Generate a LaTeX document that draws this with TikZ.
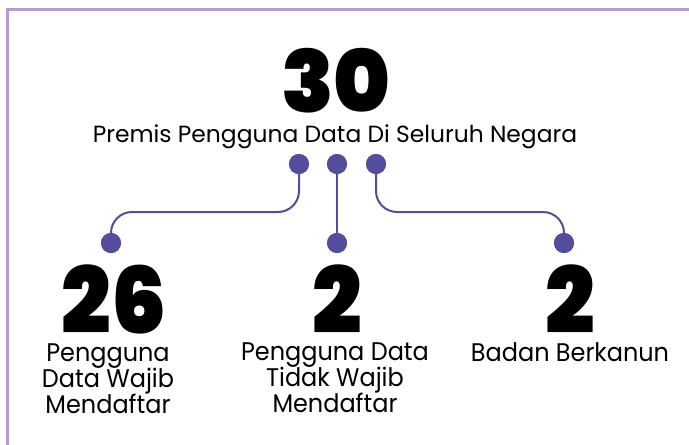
\documentclass[tikz,border=0pt]{standalone}
\usepackage{fontspec}
\usepackage{graphicx}
\setmainfont{Poppins}
\IfFontExistsTF{Poppins Black}{\newfontfamily\heavyfont{Poppins Black}}{\newcommand\heavyfont{\bfseries}}
\definecolor{framec}{HTML}{B39CD0}
\definecolor{dotc}{HTML}{534D9B}
\tikzset{
  dotnode/.style={circle, fill=dotc, minimum size=20pt, inner sep=0pt},
  conn/.style={draw=dotc, line width=2pt, rounded corners=21pt},
  bignum/.style={anchor=base, inner sep=0pt, font=\heavyfont\fontsize{86}{86}\selectfont},
  lownum/.style={anchor=base, inner sep=0pt, font=\heavyfont\fontsize{92}{92}\selectfont},
  subtxt/.style={anchor=base, inner sep=0pt, font=\fontsize{23.4}{26}\selectfont},
  lowtxt/.style={anchor=base, inner sep=0pt, font=\fontsize{25.5}{23.5}\selectfont}
}
\newcommand\sq[1]{\scalebox{0.95}[1]{#1}}
\newcommand\lines[1]{\scalebox{0.94}[1]{\begin{tabular}[t]{@{}c@{}}#1\end{tabular}}}
\begin{document}
\begin{tikzpicture}[x=1pt,y=-1pt]
\useasboundingbox (0,0) rectangle (689,445);
\fill[white] (0,0) rectangle (689,445);
\draw[framec, line width=3pt] (7.5,445) -- (7.5,9.5) -- (689,9.5);
% top
\node[bignum] (n30) at (336,112) {30};
\node[subtxt] (sub) at (335,142) {Premis Pengguna Data Di Seluruh Negara};
% dots
\node[dotnode] (t1) at (299,164) {};
\node[dotnode] (t2) at (337,164) {};
\node[dotnode] (t3) at (376,164) {};
\node[dotnode] (b1) at (111,243) {};
\node[dotnode] (b2) at (337,243) {};
\node[dotnode] (b3) at (564,243) {};
% connectors
\draw[conn] (t1.center) -- ++(0,48) -| (b1.center);
\draw[conn] (t2.center) -- (b2.center);
\draw[conn] (t3.center) -- ++(0,48) -| (b3.center);
\node[dotnode] at (t1) {};
\node[dotnode] at (t2) {};
\node[dotnode] at (t3) {};
\node[dotnode] at (b1) {};
\node[dotnode] at (b2) {};
\node[dotnode] at (b3) {};
% bottom numbers
\node[lownum] (n26) at (114,333) {\sq{26}};
\node[lownum] (n2a) at (337,333) {\sq{2}};
\node[lownum] (n2b) at (570,333) {\sq{2}};
% bottom labels
\node[lowtxt] (l1) at (108,361) {\lines{Pengguna\\Data Wajib\\Mendaftar}};
\node[lowtxt] (l2) at (335,360) {\lines{Pengguna Data\\Tidak Wajib\\Mendaftar}};
\node[lowtxt] (l3) at (570,361) {\lines{Badan Berkanun}};
\end{tikzpicture}
\end{document}
